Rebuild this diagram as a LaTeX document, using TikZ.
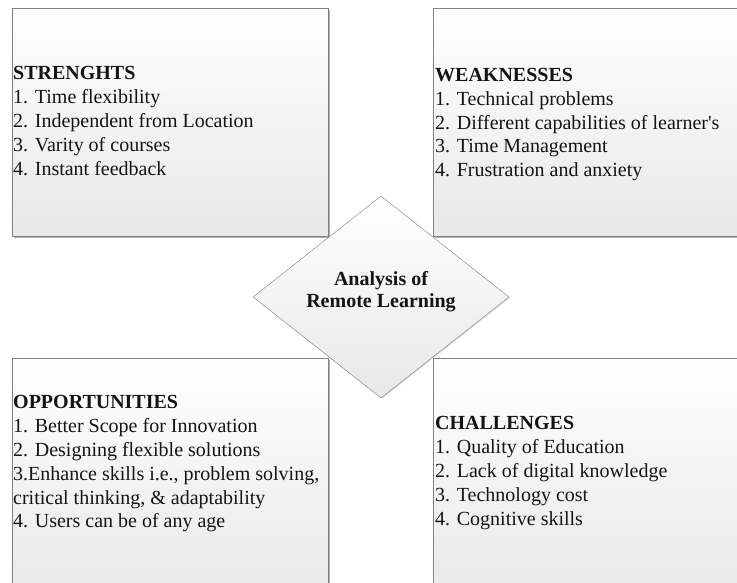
\documentclass[tikz,border=0pt]{standalone}
\usepackage{fontspec}
\setmainfont{Liberation Serif}
\usetikzlibrary{shapes.geometric,shadows}
\definecolor{boxBorder}{RGB}{128,128,128}
\definecolor{boxShade}{RGB}{232,232,232}
\definecolor{textColor}{RGB}{20,20,20}
\tikzstyle{swot} = [x = 1pt, y = -1pt]
\tikzstyle{boxShadow} = [drop shadow={shadow xshift=1.5pt, shadow yshift=-1.5pt, fill=black, opacity=0.3}]
\tikzstyle{swotBox} = [draw=boxBorder, top color=white, bottom color=boxShade, boxShadow, anchor=north west, inner sep=0pt]
\tikzstyle{swotText} = [anchor=north west, inner sep=0pt, align=left, text=textColor, font=\fontsize{20}{23.8}\selectfont]
\tikzstyle{coreStyle} = [diamond, draw=boxBorder, top color=white, bottom color=boxShade, drop shadow={shadow xshift=1pt, shadow yshift=-1pt, fill=black, opacity=0.12}, minimum width=256pt, minimum height=202pt, inner sep=0pt]
\tikzstyle{coreText} = [align=center, inner sep=0pt, text=textColor, font=\fontsize{20}{22}\selectfont\bfseries]
\newcommand{\swotBox}[5]{\node [swotBox, minimum width=#4pt, minimum height=#5pt] (#1) at (#2,#3) {};}

\begin{document}
\begin{tikzpicture}[swot]
  \useasboundingbox (0,0) rectangle (737,583);
  \clip (0,0) rectangle (737,583);
  % the four quadrants
  \swotBox{strengths}{12}{8}{316}{228}
  \swotBox{weaknesses}{433}{8}{327}{228}
  \swotBox{opportunities}{12}{358}{316}{242}
  \swotBox{challenges}{433}{358}{327}{242}

  \node [swotText] (strengthsText) at (13,66.5) {\textbf{STRENGHTS}\\1. Time flexibility\\2. Independent from Location\\3. Varity of courses\\4. Instant feedback};
  \node [swotText] (weaknessesText) at (435,68) {\textbf{WEAKNESSES}\\1. Technical problems\\2. Different capabilities of learner\textquotesingle s\\3. Time Management\\4. Frustration and anxiety};
  \node [swotText] (opportunitiesText) at (13,395.5) {\textbf{OPPORTUNITIES}\\1. Better Scope for Innovation\\2. Designing flexible solutions\\3.Enhance skills i.e., problem solving,\\critical thinking, \& adaptability\\4. Users can be of any age};
  \node [swotText] (challengesText) at (435,416.5) {\textbf{CHALLENGES}\\1. Quality of Education\\2. Lack of digital knowledge\\3. Technology cost\\4. Cognitive skills};

  % centre
  \node [coreStyle] (core) at (381,297) {};
  \node [coreText] (coreLabel) at (381,292) {Analysis of\\Remote Learning};
\end{tikzpicture}
\end{document}
